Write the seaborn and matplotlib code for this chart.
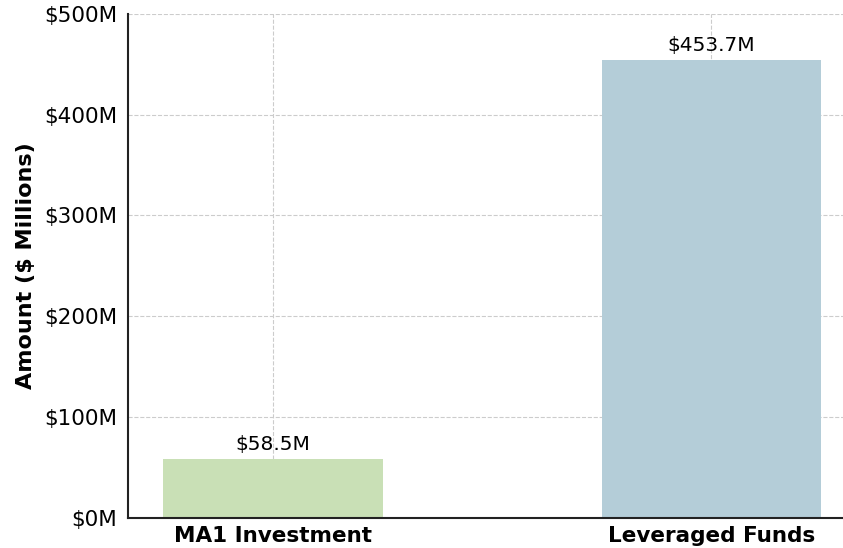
import pandas as pd
import matplotlib.pyplot as plt
import seaborn as sns

categories = ["MA1 Investment", "Leveraged Funds"]
amounts = [58.5, 453.7]
bar_colors = ["#c9e0b6", "#b4cdd8"]
y_ticks = [0, 100, 200, 300, 400, 500]

df = pd.DataFrame({"category": categories, "amount": amounts})

sns.set_style("white")
plt.rcParams["font.family"] = ["DejaVu Sans"]
plt.rcParams["text.color"] = "black"
plt.rcParams["axes.labelcolor"] = "black"
plt.rcParams["xtick.color"] = "black"
plt.rcParams["ytick.color"] = "black"

fig = plt.figure(figsize=(8.43, 5.48), dpi=100)
ax = fig.add_axes([0.152, 0.055, 0.848, 0.92])

sns.barplot(data=df, x="category", y="amount", hue="category",
            palette=bar_colors, width=0.5, legend=False, ax=ax,
            saturation=1, linewidth=0)

# etichette sopra le barre
for i, v in enumerate(amounts):
    ax.text(i, v + 5, f"${v}M", ha="center", va="bottom", fontsize=14.5)

ax.set_ylim(0, 500)
ax.set_xlim(-0.33, 1.3)
ax.set_yticks(y_ticks)
ax.set_yticklabels([f"${t}M" for t in y_ticks], fontsize=15.5)
ax.set_xticks(range(len(categories)))
ax.set_xticklabels(categories, fontsize=15.5, fontweight="bold")
ax.set_xlabel("")
ax.set_ylabel("Amount ($ Millions)", fontsize=16, fontweight="bold", labelpad=6)

ax.grid(True, linestyle="--", color="#cccccc", linewidth=0.8)
for p in ax.patches:
    p.set_zorder(1)
for gl in ax.get_xgridlines() + ax.get_ygridlines():
    gl.set_zorder(2)

sns.despine(ax=ax)
for s in ["left", "bottom"]:
    ax.spines[s].set_linewidth(1.5)
    ax.spines[s].set_color("#222222")
ax.tick_params(axis="both", length=5, width=1.2, color="#222222")
ax.tick_params(axis="x", pad=1)
ax.tick_params(axis="y", pad=3)

fig.savefig("out.png", dpi=100)
